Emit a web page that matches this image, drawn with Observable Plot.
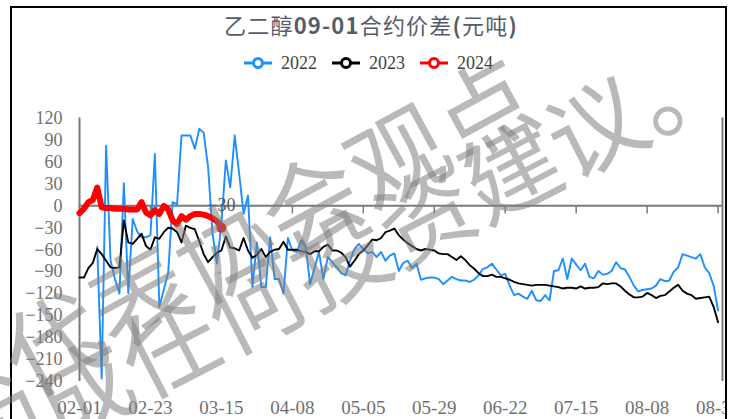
<!DOCTYPE html>
<html>
<head>
<meta charset="utf-8">
<script src="https://cdn.jsdelivr.net/npm/d3@7"></script>
<script src="https://cdn.jsdelivr.net/npm/@observablehq/plot@0.6"></script>
<style>
  html, body { margin: 0; padding: 0; background: #fff; }
  #page { position: relative; width: 738px; height: 419px; overflow: hidden; background: #fff; }
  #clip { position: absolute; left: 12px; top: 8px; width: 713px; height: 411px; overflow: hidden; }
  #inner { position: absolute; left: -12px; top: -8px; width: 738px; height: 419px; }
  #chart { position: absolute; left: 0; top: 0; }
  #title { position: absolute; left: 0; top: 9px; width: 742px; text-align: center; font-family: "Noto Sans CJK SC", sans-serif; font-size: 22px; letter-spacing: 1.2px; line-height: 30px; color: #555d6b; white-space: nowrap; }
  #title b { font-weight: 700; }
  #legend { position: absolute; left: 0; top: 52px; width: 736px; height: 22px; display: flex; justify-content: center; align-items: center; gap: 14px; font-family: "Liberation Serif", serif; font-size: 18px; color: #404040; }
  .item { display: flex; align-items: center; gap: 8px; }
  #border { position: absolute; left: 10px; top: 6px; width: 717px; height: 440px; border: 2px solid #000; box-sizing: border-box; pointer-events: none; }
  #wm { position: absolute; left: 0; top: 0; pointer-events: none; }
  #chart svg g[aria-label^="x-axis"] text { font-size: 19px; }
</style>
</head>
<body>
<div id="page">
  <div id="clip"><div id="inner">
    <div id="title">乙二醇<b>09-01</b>合约价差<b>(</b>元吨<b>)</b></div>
    <div id="legend"></div>
    <div id="chart"></div>
  </div></div>
  <div id="border"></div>
  <svg id="wm" width="738" height="419"></svg>
</div>
<script>
// ---- data ----
const xTickLabels = ["02-01","02-23","03-15","04-08","05-05","05-29","06-22","07-15","08-08","08-31"];
const TICK_STEP = 16;
const yTicks = [120, 90, 60, 30, 0, -30, -60, -90, -120, -150, -180, -210, -240];
const seriesNames = ["2022", "2023", "2024"];
const seriesColors = ["#1E8FFF", "#000000", "#FF0000"];

const v2022 = [
  null, null, null, null, -56, -236, 82, -75, -100, -120,
  31, -119, -18, -35, -43, -43, -40, 71, -138, -115,
  -91, 5, 2, 96, 96, 96, 78, 105, 100, 53,
  -38, -79, -25, 62, 25, 96, 44, -11, 14, -111,
  -50, -111, -111, -43, -100, -100, -120, -44, -61, -63,
  -47, -55, -107, -85, -63, -100, -70, -77, -84, -92,
  -95, -75, -59, -52, -59, -65, -63, -70, -63, -75,
  -68, -65, -89, -78, -75, -85, -79, -101, -99, -98,
  -98, -100, -107, -102, -97, -100, -102, -102, -104, -101,
  -95, -86, -84, -79, -87, -95, -93, -109, -122, -120,
  -124, -127, -116, -129, -130, -122, -129, -89, -88, -72,
  -100, -72, -80, -88, -79, -97, -99, -89, -94, -93,
  -89, -77, -85, -87, -97, -109, -117, -115, -114, -113,
  -109, -100, -103, -102, -90, -84, -66, -68, -70, -72,
  -66, -84, -92, -109, -143
];
const v2023 = [
  -98, -98, -85, -78, -59, -66, -75, -84, -85, -84,
  -20, -50, -52, -45, -38, -55, -60, -43, -45, -36,
  -30, -31, -36, -50, -27, -30, -32, -48, -66, -77,
  -70, -64, -61, -42, -57, -58, -61, -44, -61, -71,
  -67, -59, -70, -63, -60, -59, -49, -60, -60, -60,
  -62, -63, -66, -62, -62, -56, -53, -61, -61, -64,
  -70, -83, -75, -66, -61, -54, -46, -47, -44, -36,
  -34, -31, -40, -46, -51, -55, -59, -61, -59, -60,
  -61, -65, -66, -66, -70, -74, -69, -74, -81, -86,
  -92, -96, -96, -94, -97, -97, -99, -101, -104, -106,
  -107, -108, -109, -108, -108, -108, -109, -110, -111, -113,
  -112, -112, -113, -110, -113, -112, -112, -111, -106, -107,
  -106, -106, -110, -116, -121, -125, -125, -124, -119, -122,
  -126, -123, -122, -117, -112, -108, -116, -120, -122, -127,
  -126, -125, -124, -138, -159
];
const v2024 = [
  -10, -4, 5, 8, 25, -2, -3, -3, -4, -4,
  -4, -5, -5, -5, 5, -9, -13, -6, -11, 0,
  -5, -20, -25, -14, -19, -14, -11, -11, -12, -14,
  -17, -21, -30
];

// ---- build ----
const seriesValues = [v2022, v2023, v2024];
const seriesWidths = [1.9, 1.9, 6];
const tickIdx = xTickLabels.map((_, k) => k * TICK_STEP);
const xDomain = [0, tickIdx[tickIdx.length - 1] + 1];
const yDomain = [yTicks[yTicks.length - 1], yTicks[0]];
const fmt = d3.format("d");
const axisGray = "#7a7a7a";

const tables = seriesValues.map((vals, s) =>
  vals.map((v, i) => ({ i, v: v == null ? NaN : v, series: seriesNames[s] })));
const last24 = tables[2][tables[2].length - 1];

const chart = Plot.plot({
  width: 738,
  height: 419,
  marginLeft: 79,
  marginRight: 16,
  marginTop: 117.5,
  marginBottom: 38,
  style: { fontFamily: "'Liberation Serif', serif", fontSize: "18px", color: "#707070", background: "transparent", overflow: "visible" },
  x: { domain: xDomain, ticks: tickIdx, tickFormat: d => xTickLabels[tickIdx.indexOf(d)], tickSize: 0, tickPadding: 19, label: null },
  y: { domain: yDomain, ticks: yTicks, tickSize: 0, tickPadding: 17, label: null, tickFormat: fmt },
  marks: [
    Plot.ruleX(xDomain, { y1: yDomain[0], y2: yDomain[1], stroke: axisGray, strokeWidth: 2 }),
    Plot.ruleY([0], { stroke: axisGray, strokeWidth: 2 }),
    Plot.ruleX(tickIdx, { y1: 0, y2: -11, stroke: axisGray, strokeWidth: 1.5 }),
    ...tables.map((t, s) => Plot.line(t, {
      x: "i", y: "v", stroke: seriesColors[s], strokeWidth: seriesWidths[s],
      strokeLinejoin: "round", strokeLinecap: "round"
    })),
    Plot.dot([last24], { x: "i", y: "v", r: 5, fill: seriesColors[2] }),
    Plot.text([last24], { x: "i", y: "v", text: d => fmt(d.v), dy: -23, fill: "#595959", fontSize: 18 })
  ]
});
document.getElementById("chart").appendChild(chart);

// legend
const legend = document.getElementById("legend");
seriesNames.forEach((name, s) => {
  const item = document.createElement("div");
  item.className = "item";
  const ns = "http://www.w3.org/2000/svg";
  const sw = document.createElementNS(ns, "svg");
  sw.setAttribute("width", "30"); sw.setAttribute("height", "14");
  const ln = document.createElementNS(ns, "line");
  ln.setAttribute("x1", "1"); ln.setAttribute("x2", "29"); ln.setAttribute("y1", "7"); ln.setAttribute("y2", "7");
  ln.setAttribute("stroke", seriesColors[s]); ln.setAttribute("stroke-width", "3");
  const c = document.createElementNS(ns, "circle");
  c.setAttribute("cx", "15"); c.setAttribute("cy", "7"); c.setAttribute("r", "4.5");
  c.setAttribute("fill", "#fff"); c.setAttribute("stroke", seriesColors[s]); c.setAttribute("stroke-width", "3");
  sw.appendChild(ln); sw.appendChild(c);
  const tx = document.createElement("span");
  tx.textContent = name;
  item.appendChild(sw); item.appendChild(tx);
  legend.appendChild(item);
});

// watermark
const wm = d3.select("#wm");
const wmLines = [
  { text: "不代表协会观点", fs: 98, ls: 0, k0: 1, cx: 50, cy: 338, rot: -28.5 },
  { text: "不构成任何投资建议。", fs: 96, ls: 0, k0: 4, cx: 252, cy: 298, rot: -27.2 }
];
wmLines.forEach(l => {
  wm.append("text")
    .attr("transform", `translate(${l.cx},${l.cy}) rotate(${l.rot})`)
    .attr("x", -(l.k0 * (l.fs + l.ls) + l.fs / 2))
    .attr("y", 0)
    .attr("dominant-baseline", "central")
    .attr("font-family", "'Noto Sans CJK SC', sans-serif")
    .attr("font-size", l.fs)
    .attr("letter-spacing", l.ls)
    .attr("fill", "#808080")
    .attr("fill-opacity", 0.55)
    .text(l.text);
});
</script>
</body>
</html>
